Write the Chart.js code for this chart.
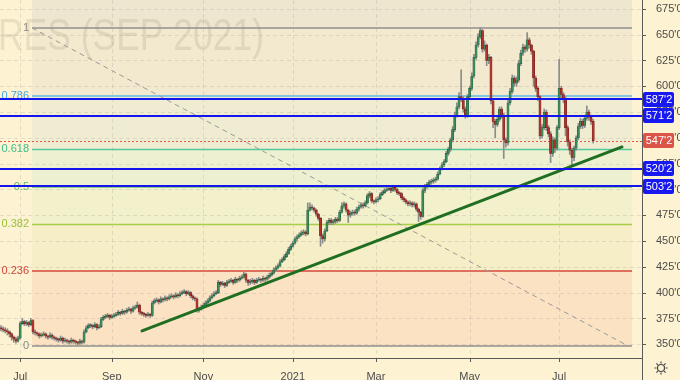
<!DOCTYPE html>
<html>
<head>
<meta charset="utf-8">
<script src="https://cdn.jsdelivr.net/npm/chart.js@4.4.0/dist/chart.umd.min.js"></script>
<style>
  html, body { margin: 0; padding: 0; background: #fdf2d2; }
  #wrap { width: 680px; height: 380px; position: relative; }
</style>
</head>
<body>
<div id="wrap"><canvas id="chart"></canvas></div>
<script>
// Corn futures (Sep 2021), daily candles, cents per bushel
const firstOpen = 366;
const closes = [
  365,364,363,362,360,357,355,353,356,370, 372,370,371,369,373,362,361,360,358,359,
  360,358,357,359,357,356,355,354,356,353, 354,353,352,354,353,352,351,353,352,362,
  366,368,368,367,369,366,367,374,376,377, 378,376,377,378,379,381,380,382,381,383,
  384,382,385,386,388,381,380,379,378,379, 378,390,392,393,391,394,393,395,394,396,
  397,396,398,397,399,400,401,399,400,397, 395,394,383,384,386,388,390,392,395,397,
  399,400,410,408,409,407,410,411,412,410, 413,412,414,415,418,412,410,411,412,410,
  412,413,412,414,413,415,417,419,422,424, 426,430,432,435,438,442,445,448,452,454,
  456,458,459,457,480,483,482,480,476,472, 455,452,460,468,470,468,469,471,470,478,
  484,486,480,475,477,478,477,481,483,485, 484,487,494,496,489,488,490,491,495,497,
  499,500,501,499,502,500,497,496,492,490, 488,486,487,485,486,481,478,474,499,503,
  505,507,508,509,510,515,520,524,527,535, 539,548,558,572,580,590,588,578,572,590,
  598,610,628,640,648,654,636,640,625,628, 586,566,563,568,578,572,548,545,584,595,
  608,603,606,622,632,638,636,645,640,634, 608,598,590,552,560,575,560,554,535,548,
  540,560,598,592,588,560,546,538,531,540, 550,561,566,562,569,575,570,566,547.25
];
const highs = [
  368,367,366,365,363,361,358,357,358,372, 375,373,373,372,375,374,364,362,361,361,
  362,361,359,361,360,358,357,356,358,357, 356,355,354,356,355,354,353,355,354,364,
  368,370,370,369,371,370,369,376,378,379, 380,379,379,380,381,383,382,384,383,385,
  386,385,387,388,391,389,382,381,380,381, 380,392,394,395,394,396,395,397,396,398,
  399,398,400,399,401,402,403,402,402,401, 398,396,395,386,388,390,392,394,397,399,
  401,402,412,411,411,410,412,413,414,413, 415,414,416,417,420,419,413,413,414,413,
  414,415,414,416,415,417,419,421,424,426, 428,432,434,437,440,444,447,450,454,456,
  458,460,461,460,487,487,485,483,481,477, 473,457,462,470,472,472,471,473,473,480,
  487,488,487,481,479,480,480,483,485,487, 487,489,496,498,497,490,492,493,497,499,
  501,502,504,502,504,503,501,498,497,493, 491,489,489,488,488,487,482,479,501,505,
  507,509,510,511,512,517,522,526,529,537, 541,550,561,575,584,594,616,590,580,592,
  600,613,631,643,651,657,655,644,641,631, 629,588,568,570,580,580,574,550,587,598,
  611,610,609,625,635,641,640,652,647,641, 635,610,600,591,563,578,577,562,556,551,
  550,562,626,600,594,590,562,548,540,542, 552,564,569,568,572,581,577,572,568
];
const lows = [
  363,362,361,359,357,354,352,351,352,355, 369,368,368,367,368,360,359,358,356,357,
  358,356,355,356,355,354,353,352,353,351, 352,351,350,351,351,350,349,350,350,351,
  361,365,366,365,366,364,365,366,373,375, 376,374,375,376,377,378,378,379,379,380,
  382,380,381,384,385,379,378,377,376,377, 376,377,389,391,389,390,391,392,392,393,
  395,394,395,395,396,398,399,397,398,395, 393,392,381,381,383,385,387,389,391,394,
  396,398,399,406,407,405,406,409,410,408, 409,410,411,413,414,410,407,408,409,408,
  409,411,410,411,411,412,414,416,418,421, 423,425,429,431,434,437,441,444,447,450,
  453,455,456,455,456,479,480,478,474,470, 445,448,450,459,466,466,466,467,468,469,
  477,482,478,468,473,475,475,476,479,482, 482,483,486,492,487,486,487,488,490,494,
  496,498,499,497,498,498,495,494,490,488, 486,484,484,483,483,479,469,471,473,497,
  501,504,505,506,507,509,514,519,522,526, 533,537,546,556,570,578,585,575,569,570,
  588,596,608,626,638,646,633,634,620,622, 583,560,550,561,566,569,530,541,543,582,
  593,600,600,604,620,630,633,634,637,631, 600,595,586,549,550,558,557,551,526,532,
  536,538,558,589,584,552,542,534,522,528, 538,548,559,559,560,567,567,563,545
];

// time axis: bar index of the first session of each labelled month
const xTickIdx = [9, 52, 95, 137, 176, 220, 262];
const xTickText = ['Jul', 'Sep', 'Nov', '2021', 'Mar', 'May', 'Jul'];
const yTicks = [350, 375, 400, 425, 450, 475, 500, 525, 550, 575, 600, 625, 650, 675];

// Fibonacci retracement drawn on the chart
const fibLevels = [1, 0.786, 0.618, 0.5, 0.382, 0.236, 0];
const fibLabels = ['1', '0.786', '0.618', '0.5', '0.382', '0.236', '0'];
const fibPrice = [348.4, 656.5];          // price at level 0 and level 1
const fibSpan = [14.55, 296.2];           // bar index range of the drawing
const fibDiag = [[14.55, 656.5], [294.4, 348.4]];

// horizontal levels, last price and trend line
const levels = [587.25, 571.25, 520.25, 503.25];
const lastPrice = 547.25;
const trendLine = [[66.2, 362.9], [291.5, 541.2]];

// styles
const fibLineColors = ['#8f8f8f', '#5fb8e8', '#53c99a', '#6cc26c', '#a9cf4a', '#d4493c', '#8f8f8f'];
const fibTextColors = ['#8a8a8a', '#3fa9e0', '#3dbd8a', '#5cbd5c', '#98c23a', '#d0473a', '#8a8a8a'];
const fibFills = ['#f2e9ce', '#f0ecd1', '#eef0d2', '#f2f1cb', '#f6eec6', '#fbe2c2'];
const upColor = '#3a8a5b';
const upBorder = '#1d5534';
const downColor = '#b3322b';
const downBorder = '#6e1b16';

const opens = closes.map((c, i) => i === 0 ? firstOpen : closes[i - 1]);

function fmtPrice(v) {
  const whole = Math.floor(v);
  return whole + "'" + Math.round((v - whole) * 8);
}

Chart.defaults.font.family = "'Liberation Sans', 'DejaVu Sans', sans-serif";
Chart.defaults.font.size = 11;
Chart.defaults.color = '#4c4c4c';

const overlay = {
  id: 'overlay',
  beforeDraw(chart) {
    const { ctx, chartArea: a, scales: { x, y } } = chart;
    const fibY = l => y.getPixelForValue(fibPrice[0] + l * (fibPrice[1] - fibPrice[0]));
    const fx0 = x.getPixelForValue(fibSpan[0]);
    const fx1 = x.getPixelForValue(fibSpan[1]);
    ctx.save();
    ctx.fillStyle = '#fdf2d2';
    ctx.fillRect(0, 0, chart.width, chart.height);

    // fib bands
    ctx.fillStyle = '#efe6cf';
    ctx.fillRect(fx0, a.top, fx1 - fx0, fibY(1) - a.top);
    for (let k = 0; k < fibLevels.length - 1; k++) {
      const y0 = fibY(fibLevels[k]), y1 = fibY(fibLevels[k + 1]);
      ctx.fillStyle = fibFills[k];
      ctx.fillRect(fx0, y0, fx1 - fx0, y1 - y0);
    }

    // watermark: "...RES (SEP 2021)" spans the left 263px
    ctx.font = "45px 'Liberation Sans', sans-serif";
    const part = 'RES (SEP 2021)';
    const sx = 266 / ctx.measureText(part).width;
    ctx.translate(264, 50);
    ctx.scale(sx, 1);
    ctx.fillStyle = 'rgba(90, 80, 60, 0.12)';
    ctx.textAlign = 'right';
    ctx.textBaseline = 'alphabetic';
    ctx.fillText('CORN FUTURES (SEP 2021)', 0, 0);
    ctx.setTransform(1, 0, 0, 1, 0, 0);

    // dashed grid
    ctx.strokeStyle = 'rgba(150, 150, 150, 0.25)';
    ctx.lineWidth = 1;
    ctx.setLineDash([4, 3]);
    ctx.beginPath();
    yTicks.forEach(v => {
      const py = Math.round(y.getPixelForValue(v)) + 0.5;
      ctx.moveTo(a.left, py); ctx.lineTo(a.right, py);
    });
    xTickIdx.forEach(v => {
      const px = Math.round(x.getPixelForValue(v)) + 0.5;
      ctx.moveTo(px, a.top); ctx.lineTo(px, a.bottom);
    });
    ctx.stroke();
    ctx.restore();
  },
  beforeDatasetsDraw(chart) {
    const { ctx, chartArea: a, scales: { x, y } } = chart;
    const fibY = l => y.getPixelForValue(fibPrice[0] + l * (fibPrice[1] - fibPrice[0]));
    const fx0 = x.getPixelForValue(fibSpan[0]);
    const fx1 = x.getPixelForValue(fibSpan[1]);
    ctx.save();
    ctx.font = "11px 'Liberation Sans', sans-serif";
    ctx.textAlign = 'right';
    ctx.textBaseline = 'middle';
    fibLevels.forEach((l, k) => {
      const py = fibY(l);
      ctx.strokeStyle = fibLineColors[k];
      ctx.lineWidth = 1.5;
      ctx.beginPath();
      ctx.moveTo(fx0, py); ctx.lineTo(fx1, py);
      ctx.stroke();
      ctx.fillStyle = fibTextColors[k];
      ctx.fillText(fibLabels[k], fx0 - 3, py);
    });

    // fib diagonal
    ctx.strokeStyle = '#9a9a9a';
    ctx.lineWidth = 1;
    ctx.setLineDash([5, 4]);
    ctx.beginPath();
    ctx.moveTo(x.getPixelForValue(fibDiag[0][0]), y.getPixelForValue(fibDiag[0][1]));
    ctx.lineTo(x.getPixelForValue(fibDiag[1][0]), y.getPixelForValue(fibDiag[1][1]));
    ctx.stroke();

    // last price line
    ctx.strokeStyle = '#e0574c';
    ctx.setLineDash([2, 2]);
    const lp = Math.round(y.getPixelForValue(lastPrice)) + 0.5;
    ctx.beginPath();
    ctx.moveTo(a.left, lp); ctx.lineTo(a.right, lp);
    ctx.stroke();
    ctx.restore();
  },
  afterDatasetsDraw(chart) {
    const { ctx, chartArea: a, scales: { x, y } } = chart;
    ctx.save();
    // trend line
    ctx.strokeStyle = '#1f6e22';
    ctx.lineWidth = 3;
    ctx.lineCap = 'round';
    ctx.beginPath();
    ctx.moveTo(x.getPixelForValue(trendLine[0][0]), y.getPixelForValue(trendLine[0][1]));
    ctx.lineTo(x.getPixelForValue(trendLine[1][0]), y.getPixelForValue(trendLine[1][1]));
    ctx.stroke();

    // horizontal levels
    ctx.strokeStyle = '#1414ee';
    ctx.lineWidth = 2;
    ctx.lineCap = 'butt';
    levels.forEach(v => {
      const py = Math.round(y.getPixelForValue(v));
      ctx.beginPath();
      ctx.moveTo(a.left, py); ctx.lineTo(a.right, py);
      ctx.stroke();
    });
    ctx.restore();
  },
  afterDraw(chart) {
    const { ctx, chartArea: a, scales: { x, y } } = chart;
    ctx.save();
    // axis lines and tick marks
    ctx.strokeStyle = '#5a5a5a';
    ctx.lineWidth = 1;
    ctx.beginPath();
    ctx.moveTo(a.right + 0.5, 0); ctx.lineTo(a.right + 0.5, chart.height);
    ctx.moveTo(0, a.bottom + 0.5); ctx.lineTo(a.right, a.bottom + 0.5);
    yTicks.forEach(v => {
      const py = Math.round(y.getPixelForValue(v)) + 0.5;
      ctx.moveTo(a.right, py); ctx.lineTo(a.right + 4, py);
    });
    xTickIdx.forEach(v => {
      const px = Math.round(x.getPixelForValue(v)) + 0.5;
      ctx.moveTo(px, a.bottom); ctx.lineTo(px, a.bottom + 4);
    });
    ctx.stroke();

    // price badges
    const badge = (v, color) => {
      const py = y.getPixelForValue(v);
      ctx.fillStyle = color;
      ctx.beginPath();
      ctx.roundRect(a.right + 1, Math.round(py - 7.5), 31, 15, 2);
      ctx.fill();
      ctx.fillStyle = '#ffffff';
      ctx.font = "11px 'Liberation Sans', sans-serif";
      ctx.textAlign = 'center';
      ctx.textBaseline = 'middle';
      ctx.fillText(fmtPrice(v), a.right + 17, py + 0.5);
    };
    levels.forEach(v => badge(v, '#1818f0'));
    badge(lastPrice, '#dc5448');

    // settings gear
    const gx = 661, gy = 368;
    ctx.strokeStyle = '#4a4a4a';
    ctx.lineWidth = 1.2;
    ctx.beginPath();
    ctx.arc(gx, gy, 3.5, 0, Math.PI * 2);
    for (let k = 0; k < 8; k++) {
      const ang = k * Math.PI / 4;
      ctx.moveTo(gx + Math.cos(ang) * 4.5, gy + Math.sin(ang) * 4.5);
      ctx.lineTo(gx + Math.cos(ang) * 6.5, gy + Math.sin(ang) * 6.5);
    }
    ctx.stroke();
    ctx.restore();
  }
};

const isUp = closes.map((c, i) => c >= opens[i]);

function noPad(s) {
  s.paddingTop = 0; s.paddingBottom = 0;
  s.paddingLeft = 0; s.paddingRight = 0;
}

new Chart(document.getElementById('chart'), {
  type: 'bar',
  data: {
    datasets: [
      {
        label: 'body',
        data: closes.map((c, i) => ({ x: i, y: [opens[i], c] })),
        backgroundColor: isUp.map(u => u ? upColor : downColor),
        borderColor: isUp.map(u => u ? upBorder : downBorder),
        borderWidth: 0.5,
        borderSkipped: false,
        barThickness: 2.2,
        minBarLength: 1,
        grouped: false,
        order: 0
      },
      {
        label: 'wick',
        data: closes.map((c, i) => ({ x: i, y: [lows[i], highs[i]] })),
        backgroundColor: '#8c8c8c',
        borderWidth: 0,
        barThickness: 1,
        grouped: false,
        order: 1
      }
    ]
  },
  options: {
    responsive: true,
    maintainAspectRatio: false,
    animation: false,
    layout: { padding: 0, autoPadding: false },
    plugins: { legend: { display: false }, tooltip: { enabled: false } },
    scales: {
      x: {
        type: 'linear',
        min: -0.47,
        max: 300.9,
        offset: false,
        grid: { display: false },
        border: { display: false },
        afterBuildTicks: s => { s.ticks = xTickIdx.map(v => ({ value: v })); },
        afterFit: s => { s.height = 22; noPad(s); },
        ticks: {
          autoSkip: false,
          maxRotation: 0,
          padding: 4,
          color: '#4c4c4c',
          callback: (v, i) => xTickText[i]
        }
      },
      y: {
        position: 'right',
        min: 336.7,
        max: 683.6,
        grid: { display: false },
        border: { display: false },
        afterBuildTicks: s => { s.ticks = yTicks.map(v => ({ value: v })); },
        afterFit: s => { s.width = 38; noPad(s); },
        ticks: {
          padding: 6,
          color: '#4c4c4c',
          callback: v => fmtPrice(v)
        }
      }
    }
  },
  plugins: [overlay]
});
</script>
</body>
</html>
